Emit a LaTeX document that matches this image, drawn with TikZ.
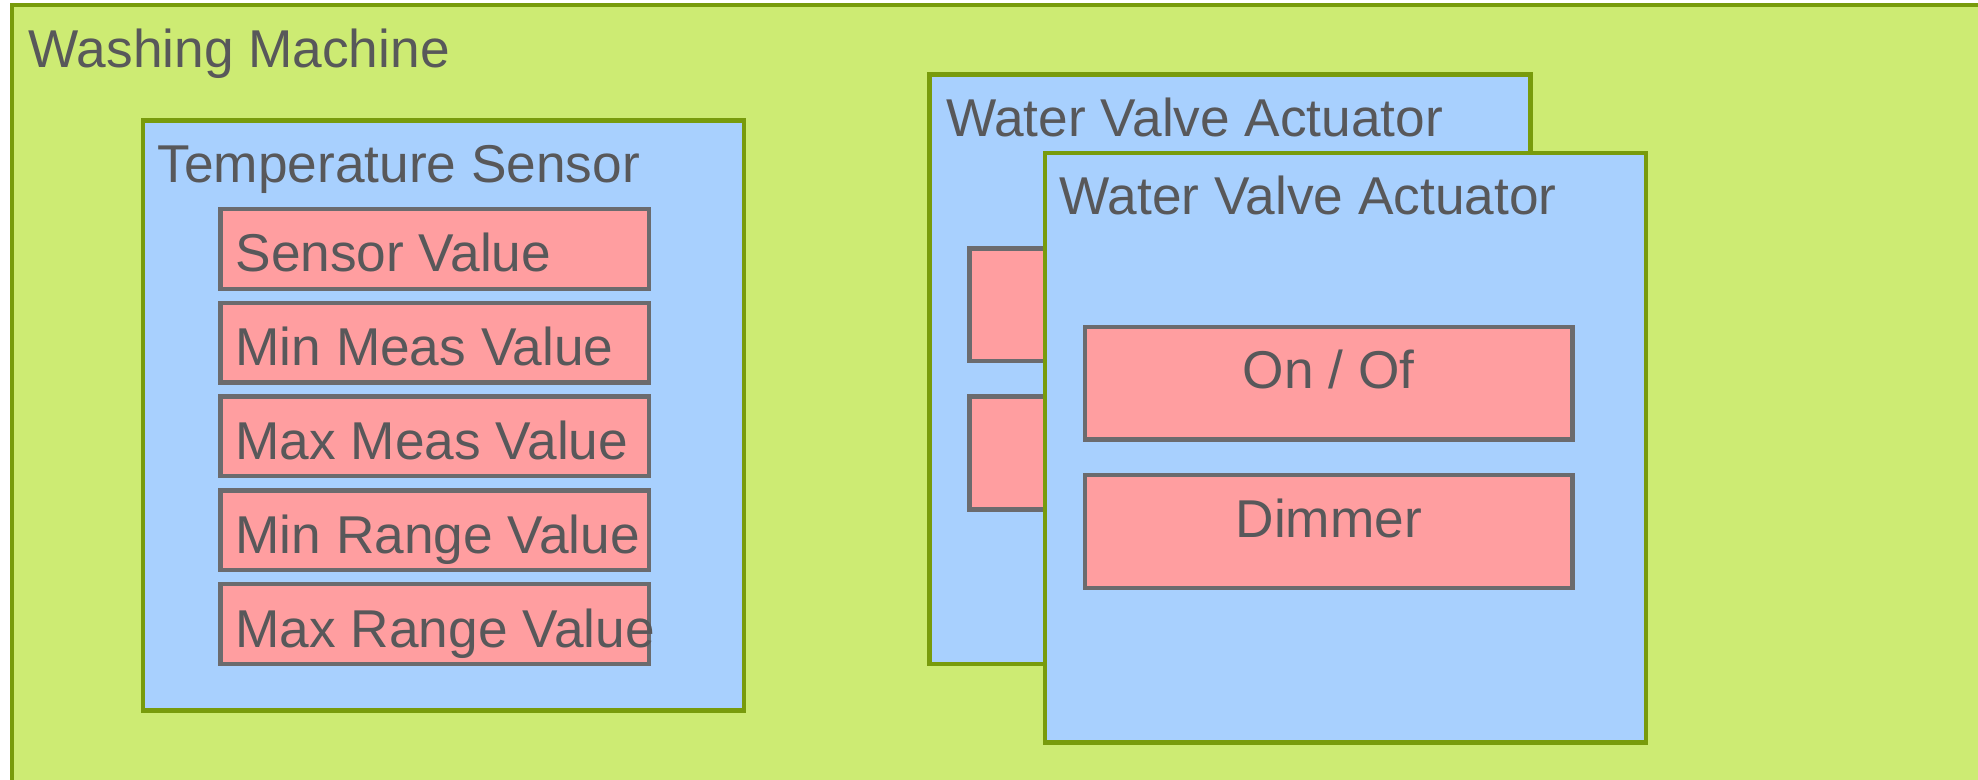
\documentclass[tikz,border=0pt]{standalone}
\usepackage{fontspec}
\setmainfont{Liberation Sans}
\definecolor{wmgreen}{HTML}{CDEB73}
\definecolor{wmborder}{HTML}{789B0C}
\definecolor{devblue}{HTML}{A8D0FE}
\definecolor{fieldpink}{HTML}{FF9EA0}
\definecolor{fieldborder}{HTML}{6B6B6E}
\definecolor{textgray}{HTML}{58585A}

\begin{document}
\begin{tikzpicture}[
	box/.style={draw=wmborder,line width=2.6pt,fill=devblue,inner sep=0pt,outer sep=0pt},
	field/.style={draw=fieldborder,line width=2.4pt,fill=fieldpink,inner sep=0pt,outer sep=0pt,text=textgray,font=\fontsize{30.3}{36}\selectfont},
	title/.style={anchor=base west,inner sep=0pt,outer sep=0pt,text=textgray,font=\fontsize{30.3}{36}\selectfont}
]
	\useasboundingbox (0,0) rectangle (39.56,15.58);
	\clip (0,0) rectangle (39.56,15.58);

	% washing machine
	\node[box,fill=wmgreen,minimum width=39.76cm,minimum height=16cm,anchor=north west] (wm) at (0.24,15.48) {};
	\node[title] (wmtitle) at ([shift={(0.33,-1.26)}]wm.north west) {Washing Machine};

	% temperature sensor
	\node[box,minimum width=12.02cm,minimum height=11.8cm,anchor=north west] (ts) at (2.86,13.17) {};
	\node[title] (tstitle) at ([shift={(0.29,-1.25)}]ts.north west) {Temperature Sensor};
	\foreach \t [count=\i] in {Sensor Value,Min Meas Value,Max Meas Value,Min Range Value,Max Range Value} {
		\node[field,minimum width=8.57cm,minimum height=1.594cm] (ts\i) at (8.695,{10.603-1.876*(\i-1)}) {};
		\node[title] (tslabel\i) at ([shift={(0.30,-0.463)}]ts\i.west) {\t};
	};

	% water valve actuator (behind)
	\node[box,minimum width=12.02cm,minimum height=11.79cm] (wvaback) at (24.6,8.195) {};
	\node[title] (wvabacktitle) at ([shift={(0.33,-1.25)}]wvaback.north west) {Water Valve Actuator};
	\node[field,minimum width=9.75cm,minimum height=2.25cm] (onoffback) at (24.265,9.485) {};
	\node[field,minimum width=9.75cm,minimum height=2.26cm] (dimmerback) at (24.265,6.52) {};

	% water valve actuator (front)
	\node[box,minimum width=12.02cm,minimum height=11.79cm] (wva) at (26.91,6.625) {};
	\node[title] (wvatitle) at ([shift={(0.29,-1.24)}]wva.north west) {Water Valve Actuator};
	\node[field,minimum width=9.75cm,minimum height=2.25cm,text height=0.8cm,text depth=0.57cm] (onoff) at (26.575,7.915) {On / Of};
	\node[field,minimum width=9.75cm,minimum height=2.26cm,text height=0.8cm,text depth=0.57cm] (dimmer) at (26.575,4.95) {Dimmer};
\end{tikzpicture}
\end{document}
